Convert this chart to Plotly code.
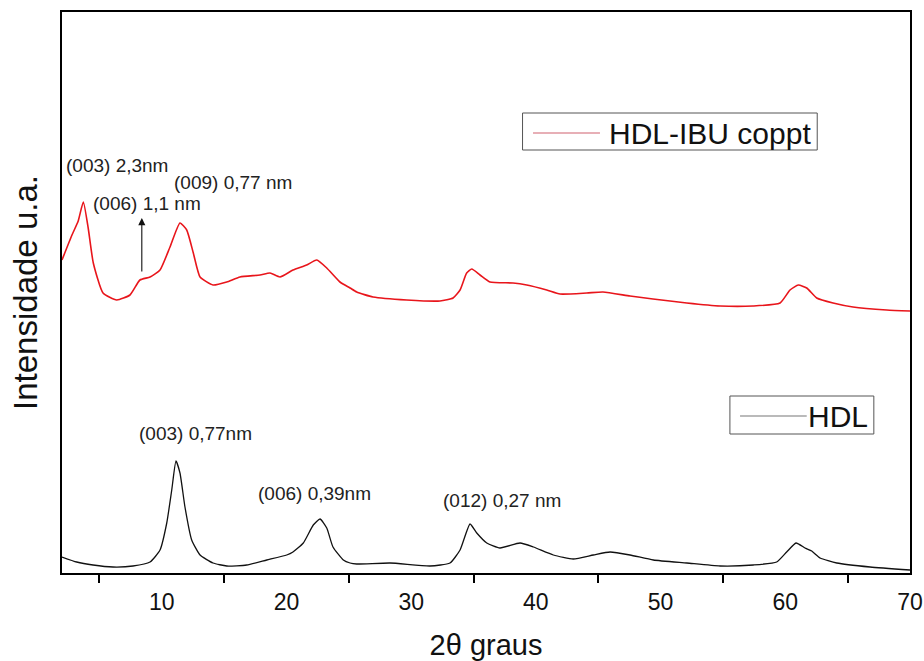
import plotly.graph_objects as go

# 2θ (degrees) and intensity (a.u.) for the intercalated sample (offset upward)
two_theta_ibu = [2.0, 2.8, 3.3, 3.71, 4.1, 4.51, 5.29, 6.39, 7.45, 8.25, 9.06, 9.86, 10.66,
                 11.46, 12.0, 12.53, 13.07, 14.11, 15.21, 16.27, 17.88, 18.68,
                 19.48, 20.52, 21.62, 22.43, 23.23, 24.29, 25.10, 25.63, 26.94,
                 29.64, 32.31, 33.36, 33.92, 34.45, 34.86, 35.52, 36.32, 38.17,
                 39.27, 40.87, 41.94, 44.08, 45.38, 47.55, 49.39, 52.10, 54.77,
                 57.41, 59.58, 60.38, 61.05, 61.72, 62.52, 63.83, 65.43, 68.13, 70.0]
int_ibu = [313, 338, 352, 371, 345, 310, 280, 273, 278, 293, 296, 303, 326,
           350, 343, 320, 296, 288, 291, 296, 298, 300,
           296, 303, 308, 313, 305, 291, 285, 281, 276,
           273, 272, 275, 283, 300, 304, 298, 291, 290,
           288, 283, 279, 280, 281, 277, 274, 270, 267,
           267, 270, 283, 288, 285, 275, 270, 266, 263, 262]

# 2θ (degrees) and intensity (a.u.) for the pristine LDH
two_theta_hdl = [2.0, 3.18, 4.49, 6.09, 7.69, 9.06, 9.86, 10.40, 10.80, 11.14,
                 11.46, 11.86, 12.40, 13.07, 14.11, 15.21, 16.81, 18.42, 20.02,
                 20.52, 21.35, 22.15, 22.69, 23.23, 23.73, 24.56, 25.10, 25.63,
                 28.30, 31.51, 33.11, 33.92, 34.72, 35.26, 36.06, 37.12, 38.73,
                 39.80, 41.40, 43.0, 44.61, 45.95, 47.55, 49.42, 52.10, 54.77,
                 57.44, 59.31, 60.11, 60.86, 61.58, 62.12, 62.79, 64.13, 66.80, 70.0]
int_hdl = [16, 11, 8, 6, 7, 11, 23, 50, 83, 112,
           100, 66, 33, 18, 10, 7, 8, 13, 18,
           21, 30, 48, 54, 45, 26, 13, 10, 9,
           10, 7, 10, 23, 49, 40, 30, 25, 30,
           26, 18, 14, 18, 21, 18, 13, 10, 7,
           8, 11, 21, 30, 25, 22, 15, 10, 6, 3]

# peak labels: text, left x (2θ), centre y (a.u.)
peak_text = ["(003) 2,3nm", "(006) 1,1 nm", "(009) 0,77 nm",
             "(003) 0,77nm", "(006) 0,39nm", "(012) 0,27 nm"]
peak_x = [2.18, 4.32, 10.82, 8.0, 17.55, 32.4]
peak_y = [408, 370, 391, 140, 80, 73]

x_tick_vals = [10, 20, 30, 40, 50, 60, 70]
x_tick_text = ["10", "20", "30", "40", "50", "60", "70"]

RED = "#e8151b"
BLACK = "#111111"
FONT = "Liberation Sans, Arial, sans-serif"

fig = go.Figure()
fig.add_trace(go.Scatter(x=two_theta_ibu, y=int_ibu, mode="lines", name="HDL-IBU coppt",
                         line=dict(color=RED, width=1.6, shape="spline", smoothing=0.5)))
fig.add_trace(go.Scatter(x=two_theta_hdl, y=int_hdl, mode="lines", name="HDL",
                         line=dict(color=BLACK, width=1.3, shape="spline", smoothing=0.5)))

annotations = []
for t, x, y in zip(peak_text, peak_x, peak_y):
    annotations.append(dict(x=x, y=y, xref="x", yref="y", text=t, showarrow=False,
                            xanchor="left", yanchor="middle",
                            font=dict(family=FONT, size=19, color="#222")))

# arrow marking the weak (006) reflection
annotations.append(dict(x=8.4, y=355, ax=8.4, ay=300, xref="x", yref="y",
                        axref="x", ayref="y", text="", showarrow=True,
                        arrowhead=2, arrowsize=1.3, arrowwidth=1.1, arrowcolor="#111"))

# legend boxes: frame, sample line, label start
legend_items = [
    dict(name="HDL-IBU coppt", box=(38.93, 62.56, 423, 460), line=(39.77, 45.14), ly=440,
         tx=45.74, color="#d0606e"),
    dict(name="HDL", box=(55.56, 67.1, 139, 177), line=(56.37, 61.72), ly=157,
         tx=61.62, color="#777777"),
]
shapes = []
for item in legend_items:
    x0, x1, y0, y1 = item["box"]
    shapes.append(dict(type="rect", xref="x", yref="y", x0=x0, x1=x1, y0=y0, y1=y1,
                       line=dict(color="#555", width=1), fillcolor="white", layer="above"))
    shapes.append(dict(type="line", xref="x", yref="y", x0=item["line"][0], x1=item["line"][1],
                       y0=item["ly"], y1=item["ly"], line=dict(color=item["color"], width=1.2),
                       layer="above"))
    annotations.append(dict(x=item["tx"], y=item["ly"], xref="x", yref="y",
                            text=item["name"], showarrow=False, xanchor="left",
                            yanchor="middle", font=dict(family=FONT, size=30, color="#111")))

fig.update_layout(
    width=924, height=661,
    margin=dict(l=62, r=14, t=12, b=88),
    paper_bgcolor="white", plot_bgcolor="white",
    showlegend=False,
    font=dict(family=FONT, color="#111"),
    shapes=shapes, annotations=annotations,
)
fig.update_xaxes(
    range=[2, 70], showgrid=False, zeroline=False, automargin=False,
    showline=True, linecolor="black", linewidth=2, mirror=True,
    tickvals=x_tick_vals, ticktext=x_tick_text, ticks="",
    ticklabelstandoff=7,
    tickfont=dict(family=FONT, size=23, color="#111"),
    minor=dict(tick0=5, dtick=10, ticks="outside", ticklen=8, tickwidth=2, tickcolor="black"),
    title=dict(text="2θ graus", font=dict(family=FONT, size=29, color="#111"), standoff=29),
)
fig.update_yaxes(
    range=[0, 561], showgrid=False, zeroline=False, automargin=False,
    showline=True, linecolor="black", linewidth=2, mirror=True,
    showticklabels=False, ticks="",
    title=dict(text="Intensidade u.a.", font=dict(family=FONT, size=33, color="#111"), standoff=12),
)

fig.write_html("out.html")
